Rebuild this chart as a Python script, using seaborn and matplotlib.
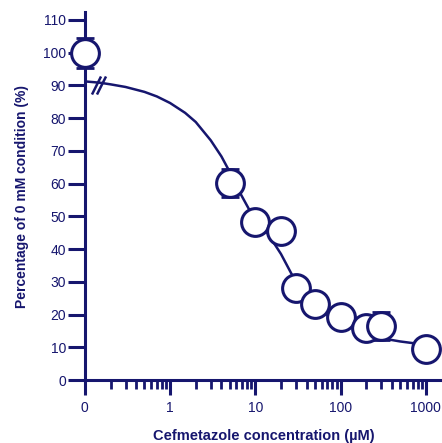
import matplotlib
matplotlib.use("Agg")
import matplotlib.pyplot as plt
import matplotlib.ticker as mticker
from matplotlib.path import Path
import seaborn as sns

NAVY = "#16166e"

# measured points (the 0 µM control sits at 0.1 on the log axis, labelled "0")
conc = [0.1, 5, 10, 20, 30, 50, 100, 200, 300, 1000]
pct = [100, 60.2, 48.3, 45.6, 28.1, 23.2, 19.3, 15.9, 16.5, 9.5]
sem = [4.6, 4.3, 3.0, 3.0, 3.0, 3.0, 3.0, 3.0, 4.3, 3.0]

# fitted curve
fit_x = [0.1, 0.15, 0.2, 0.3, 0.5, 0.7, 1, 1.5, 2, 3, 4, 5, 6.8, 8.5, 10,
         13.8, 20, 26.5, 30, 40, 50, 70, 100, 140, 200, 300, 500, 700, 1000]
fit_y = [91.2, 90.8, 90.3, 89.5, 88.0, 86.6, 84.6, 81.6, 78.8, 73.2, 68.3,
         63.6, 56.6, 52.0, 49.4, 45.0, 38.5, 32.5, 30.0, 25.6, 22.8, 19.9,
         17.6, 15.9, 14.2, 12.8, 11.8, 11.3, 11.0]

x_ticks = [0.1, 1, 10, 100, 1000]
x_labels = ["0", "1", "10", "100", "1000"]
y_ticks = list(range(0, 111, 10))

# where the "//" break sits on the curve
break_x = [0.135, 0.155]
break_y = [90.2, 90.2]

sns.set_style("ticks")
plt.rcParams["font.family"] = ["Liberation Sans", "DejaVu Sans"]

fig = plt.figure(figsize=(4.42, 4.43), dpi=100)
ax = fig.add_axes([0.192, 0.142, 0.808, 0.831])

# curve
sns.lineplot(x=fit_x, y=fit_y, ax=ax, color=NAVY, linewidth=1.8,
             sort=False, estimator=None, zorder=2)

# break mark on the curve just right of the axis
slash = Path([(-0.5, -1.0), (0.5, 1.0)], [Path.MOVETO, Path.LINETO])
ax.plot(break_x, break_y, linestyle="none", marker=slash,
        markersize=13, markeredgewidth=1.8, color=NAVY, zorder=3, clip_on=False)

# error bars then open circles
ax.errorbar(conc, pct, yerr=sem, fmt="none", ecolor=NAVY, elinewidth=2,
            capsize=6.5, capthick=2, zorder=3, clip_on=False)
sns.scatterplot(x=conc, y=pct, ax=ax, s=400, color="white", edgecolor=NAVY,
                linewidth=2.2, zorder=4, clip_on=False)

ax.set_xscale("log")
ax.set_xlim(0.1, 1550)
ax.set_ylim(0, 112.4)

ax.set_xticks(x_ticks)
ax.set_xticklabels(x_labels)
ax.xaxis.set_minor_locator(mticker.LogLocator(base=10, subs=range(2, 10)))
ax.xaxis.set_minor_formatter(mticker.NullFormatter())
ax.set_yticks(y_ticks)

ax.tick_params(axis="x", which="major", length=11, width=2.2, color=NAVY,
               labelcolor=NAVY, labelsize=10, pad=4)
ax.tick_params(axis="x", which="minor", length=6.5, width=2.0, color=NAVY)
ax.tick_params(axis="y", length=12, width=2.2, color=NAVY, labelcolor=NAVY,
               labelsize=10, pad=1.5)

for side in ["top", "right"]:
    ax.spines[side].set_visible(False)
for side in ["left", "bottom"]:
    ax.spines[side].set_color(NAVY)
    ax.spines[side].set_linewidth(2.2)

ax.set_xlabel("Cefmetazole concentration (\u00b5M)", fontsize=10.5,
              fontweight="bold", color=NAVY, labelpad=10)
ax.set_ylabel("Percentage of 0 mM condition (%)", fontsize=10,
              fontweight="bold", color=NAVY, labelpad=10)

fig.savefig("out.png", dpi=100)
plt.close(fig)
